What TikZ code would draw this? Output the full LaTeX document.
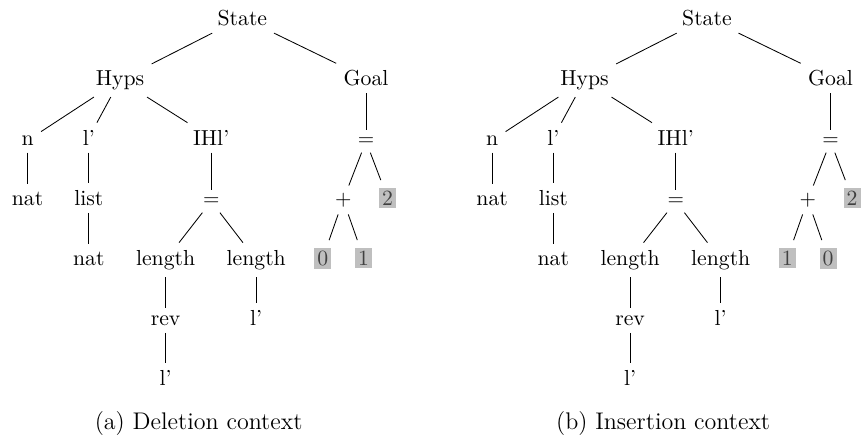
\documentclass[tikz,border=0pt]{standalone}
\usepackage{tikz}
\tikzset{>=latex}
\newcommand{\hl}[1]{{\setlength{\fboxsep}{1.5pt}\colorbox{gray!50}{\textcolor{black!75}{#1}}}}

\begin{document}
\begin{tikzpicture}[every node/.style={anchor=base,font=\fontsize{10.3}{12.4}\selectfont},capt/.style={font=\fontsize{11.4}{14}\selectfont}]
    \useasboundingbox (0,0) rectangle (14.35,-7.317);
    % (a) deletion
    \node (dState) at (4.04,-0.42) {State};
    \node (dHyps) at (2.0,-1.42) {Hyps};
    \node (dGoal) at (6.1,-1.42) {Goal};
    \node (dN) at (0.46,-2.42) {n};
    \node (dL) at (1.48,-2.42) {l'};
    \node (dIH) at (3.52,-2.42) {IHl'};
    \node (dGEq) at (6.1,-2.42) {$=$};
    \node (dNat) at (0.46,-3.42) {nat};
    \node (dList) at (1.48,-3.42) {list};
    \node (dEq) at (3.52,-3.42) {$=$};
    \node (dPlus) at (5.72,-3.42) {$+$};
    \node (dTwo) at (6.46,-3.42) {\hl{2}};
    \node (dListNat) at (1.48,-4.42) {nat};
    \node (dLenL) at (2.76,-4.42) {length};
    \node (dLenR) at (4.27,-4.42) {length};
    \node (dZero) at (5.38,-4.42) {\hl{0}};
    \node (dOne) at (6.06,-4.42) {\hl{1}};
    \node (dRev) at (2.76,-5.42) {rev};
    \node (dLenRL) at (4.27,-5.42) {l'};
    \node (dRevL) at (2.76,-6.42) {l'};
    \node[capt] (dCap) at (3.31,-7.15) {(a) Deletion context};
    \path
        (dState) edge (dHyps)
                 edge (dGoal)
        (dHyps)  edge (dN)
                 edge (dL)
                 edge (dIH)
        (dN)     edge (dNat)
        (dL)     edge (dList)
        (dList)  edge (dListNat)
        (dIH)    edge (dEq)
        (dEq)    edge (dLenL)
                 edge (dLenR)
        (dLenL)  edge (dRev)
        (dRev)   edge (dRevL)
        (dLenR)  edge (dLenRL)
        (dGoal)  edge (dGEq)
        (dGEq)   edge (dPlus)
                 edge (dTwo)
        (dPlus)  edge (dZero)
                 edge (dOne)
    ;
    % (b) insertion
    \begin{scope}[xshift=7.742cm]
    \node (iState) at (4.04,-0.42) {State};
    \node (iHyps) at (2.0,-1.42) {Hyps};
    \node (iGoal) at (6.1,-1.42) {Goal};
    \node (iN) at (0.46,-2.42) {n};
    \node (iL) at (1.48,-2.42) {l'};
    \node (iIH) at (3.52,-2.42) {IHl'};
    \node (iGEq) at (6.1,-2.42) {$=$};
    \node (iNat) at (0.46,-3.42) {nat};
    \node (iList) at (1.48,-3.42) {list};
    \node (iEq) at (3.52,-3.42) {$=$};
    \node (iPlus) at (5.72,-3.42) {$+$};
    \node (iTwo) at (6.46,-3.42) {\hl{2}};
    \node (iListNat) at (1.48,-4.42) {nat};
    \node (iLenL) at (2.76,-4.42) {length};
    \node (iLenR) at (4.27,-4.42) {length};
    \node (iOne) at (5.38,-4.42) {\hl{1}};
    \node (iZero) at (6.06,-4.42) {\hl{0}};
    \node (iRev) at (2.76,-5.42) {rev};
    \node (iLenRL) at (4.27,-5.42) {l'};
    \node (iRevL) at (2.76,-6.42) {l'};
    \node[capt] (iCap) at (3.31,-7.15) {(b) Insertion context};
    \end{scope}
    \path
        (iState) edge (iHyps)
                 edge (iGoal)
        (iHyps)  edge (iN)
                 edge (iL)
                 edge (iIH)
        (iN)     edge (iNat)
        (iL)     edge (iList)
        (iList)  edge (iListNat)
        (iIH)    edge (iEq)
        (iEq)    edge (iLenL)
                 edge (iLenR)
        (iLenL)  edge (iRev)
        (iRev)   edge (iRevL)
        (iLenR)  edge (iLenRL)
        (iGoal)  edge (iGEq)
        (iGEq)   edge (iPlus)
                 edge (iTwo)
        (iPlus)  edge (iOne)
                 edge (iZero)
    ;
\end{tikzpicture}
\end{document}
